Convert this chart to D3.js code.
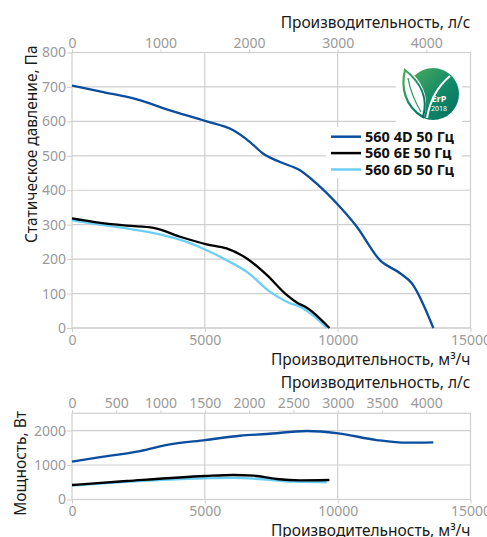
<!DOCTYPE html>
<html><head><meta charset="utf-8">
<script src="https://cdn.jsdelivr.net/npm/d3@7"></script>
<style>
body{margin:0;background:#fff}
svg text{font-family:"Noto Sans",sans-serif}
</style>
</head><body>
<svg id="c" width="487" height="537"></svg>
<script>
// ---------- data ----------
const seriesNames  = ["560 4D 50 Гц", "560 6E 50 Гц", "560 6D 50 Гц"];
const seriesColors = ["#0a4c9e", "#000000", "#6dcff6"];

// pressure curves (flow m3/h, static pressure Pa)
const flow4D = [0, 1180, 2440, 3690, 5070, 6070, 6700, 7200, 7830, 8580, 9210, 10020, 10720, 11590, 12350, 12790, 13600];
const pres4D = [704, 685, 664, 632, 600, 574, 540, 506, 482, 458, 419, 357, 294, 197, 159, 130, 0];
const flow6E = [0, 800, 2060, 3070, 4070, 5070, 5820, 6580, 7330, 8080, 8460, 8840, 9690];
const pres6E = [318, 308, 297, 291, 265, 243, 231, 202, 154, 96, 74, 59, 0];
const flow6D = [0, 800, 2060, 3310, 4320, 5070, 5820, 6580, 7460, 8210, 8580, 8960, 9590];
const pres6D = [313, 303, 289, 272, 250, 226, 197, 163, 105, 72, 62, 43, 0];

// power curves (flow m3/h, power W)
const pflow4D = [0, 1180, 2560, 3690, 5020, 6330, 7330, 8840, 10020, 11470, 12600, 13600];
const power4D = [1096, 1241, 1406, 1600, 1725, 1849, 1899, 1986, 1918, 1725, 1647, 1658];
const pflow6E = [0, 2060, 5020, 6070, 6830, 7700, 8580, 9690];
const power6E = [420, 536, 681, 710, 690, 594, 556, 565];
const pflow6D = [0, 2060, 5020, 6070, 7080, 8330, 9590];
const power6D = [400, 510, 614, 630, 594, 516, 498];

// ticks
const flowTicks   = [0, 5000, 10000, 15000];
const lpsTicksTop = [0, 1000, 2000, 3000, 4000];
const lpsTicksBot = [0, 500, 1000, 1500, 2000, 2500, 3000, 3500, 4000];
const presTicks   = [0, 100, 200, 300, 400, 500, 600, 700, 800];
const powerTicks  = [0, 1000, 2000];

const titleLps   = "Производительность, л/с";
const titleFlow  = "Производительность, м³/ч";
const titlePres  = "Статическое давление, Па";
const titlePower = "Мощность, Вт";

// ---------- drawing ----------
const svg = d3.select("#c");
const L = 72, R = 470.5;
const gridCol = "#cfcfcf", tickCol = "#9a9a9a", titleCol = "#1a1a1a";

const x  = d3.scaleLinear().domain([0, 15000]).range([L, R]);
const xl = d3.scaleLinear().domain([0, 4500]).range([L, R]);

function styleAxis(g) {
  g.select(".domain").remove();
  g.selectAll(".tick line").attr("stroke", gridCol);
  g.selectAll(".tick text").attr("fill", tickCol).style("font-size", "14px");
}

function panel(opt) {
  const y = d3.scaleLinear().domain(opt.ydom).range([opt.bottom, opt.top]);
  const g = svg.append("g");
  g.selectAll(".hg").data(opt.yticks).enter().append("line")
    .attr("x1", L).attr("x2", R).attr("y1", d => y(d)).attr("y2", d => y(d))
    .attr("stroke", gridCol).attr("stroke-width", 1.2);
  g.selectAll(".vg").data([5000, 10000]).enter().append("line")
    .attr("x1", d => x(d)).attr("x2", d => x(d)).attr("y1", opt.top).attr("y2", opt.bottom)
    .attr("stroke", gridCol).attr("stroke-width", 1.2);
  g.append("rect").attr("x", L).attr("y", opt.top).attr("width", R - L).attr("height", opt.bottom - opt.top)
    .attr("fill", "none").attr("stroke", gridCol).attr("stroke-width", 1.2);

  g.append("g").attr("transform", `translate(${L},0)`)
    .call(d3.axisLeft(y).tickValues(opt.yticks).tickSize(5).tickPadding(1).tickFormat(d3.format("d")))
    .call(styleAxis);
  g.append("g").attr("transform", `translate(0,${opt.bottom})`)
    .call(d3.axisBottom(x).tickValues(flowTicks).tickSize(4).tickPadding(3).tickFormat(d3.format("d")))
    .call(styleAxis);
  g.append("g").attr("transform", `translate(0,${opt.top})`)
    .call(d3.axisTop(xl).tickValues(opt.lpsTicks).tickSize(3).tickPadding(2).tickFormat(d3.format("d")))
    .call(styleAxis);

  g.append("text").attr("x", R).attr("y", opt.top - 25).attr("text-anchor", "end")
    .attr("fill", titleCol).style("font-size", "15.5px").text(titleLps);
  g.append("text").attr("x", R).attr("y", opt.bottom + opt.bt).attr("text-anchor", "end")
    .attr("fill", titleCol).style("font-size", "15.5px").text(titleFlow);
  g.append("text").attr("transform", `translate(${opt.ytx},${(opt.top + opt.bottom) / 2 + opt.yoff}) rotate(-90)`)
    .attr("text-anchor", "middle").attr("fill", titleCol).style("font-size", "15.5px").text(opt.ytitle);

  return {g, y};
}

const pTop = panel({ydom: [0, 800], top: 52.5, bottom: 328, yticks: presTicks, lpsTicks: lpsTicksTop,
  ytitle: titlePres, ytx: 37, yoff: -46, bt: 37});
const pBot = panel({ydom: [0, 2500], top: 413.3, bottom: 499.5, yticks: powerTicks, lpsTicks: lpsTicksBot,
  ytitle: titlePower, ytx: 26, yoff: 7, bt: 36});

function drawSeries(p, xs, ys, color) {
  const pts = xs.map((v, i) => [v, ys[i]]);
  p.g.append("path").datum(pts)
    .attr("fill", "none").attr("stroke", color).attr("stroke-width", 2.3)
    .attr("stroke-linejoin", "round")
    .attr("d", d3.line().x(d => x(d[0])).y(d => p.y(d[1])).curve(d3.curveMonotoneX));
}

drawSeries(pTop, flow4D, pres4D, seriesColors[0]);
drawSeries(pTop, flow6D, pres6D, seriesColors[2]);
drawSeries(pTop, flow6E, pres6E, seriesColors[1]);

drawSeries(pBot, pflow4D, power4D, seriesColors[0]);
drawSeries(pBot, pflow6D, power6D, seriesColors[2]);
drawSeries(pBot, pflow6E, power6E, seriesColors[1]);

// legend
const lg = svg.append("g");
lg.append("rect").attr("x", 326).attr("y", 127).attr("width", 136).attr("height", 51).attr("fill", "#fff");
seriesNames.forEach((n, i) => {
  const yy = 136.7 + i * 16.4;
  lg.append("line").attr("x1", 331).attr("x2", 361).attr("y1", yy).attr("y2", yy)
    .attr("stroke", seriesColors[i]).attr("stroke-width", 2.5);
  lg.append("text").attr("x", 365).attr("y", yy + 5).attr("fill", "#111")
    .style("font-size", "14.5px").style("font-weight", "bold").text(n);
});

// ErP logo
const logo = svg.append("g");
logo.append("rect").attr("x", 396).attr("y", 62).attr("width", 66).attr("height", 62).attr("fill", "#fff");
const defs = svg.append("defs");
const gr = defs.append("linearGradient").attr("id", "erp").attr("x1", "0").attr("y1", "0").attr("x2", "1").attr("y2", "1");
gr.append("stop").attr("offset", "0").attr("stop-color", "#4fae5c");
gr.append("stop").attr("offset", "0.55").attr("stop-color", "#138a68");
gr.append("stop").attr("offset", "1").attr("stop-color", "#006e63");
logo.append("circle").attr("cx", 433).attr("cy", 94).attr("r", 26).attr("fill", "url(#erp)");
// white leaf cut-out
logo.append("path").attr("d", "M423,120 C401,108 398,86 404,66 C420,78 432,96 423,120 Z")
  .attr("fill", "#fff");
// green leaf outline
logo.append("path").attr("d", "M423,117 C404,106 401,86 405,70 C419,81 429,97 423,117 Z")
  .attr("fill", "none").attr("stroke", "url(#erp)").attr("stroke-width", 2.2);
logo.append("path").attr("d", "M421,112 C414,100 410,90 408,78")
  .attr("fill", "none").attr("stroke", "#2f9c60").attr("stroke-width", 1.3);
// white stroke notch on circle
logo.append("path").attr("d", "M427,118 C430,100 438,86 450,76")
  .attr("fill", "none").attr("stroke", "#fff").attr("stroke-width", 2);
logo.append("text").attr("x", 439).attr("y", 102).attr("text-anchor", "middle").attr("fill", "#fff")
  .style("font-size", "9px").style("font-weight", "bold").text("ErP");
logo.append("text").attr("x", 439).attr("y", 111).attr("text-anchor", "middle").attr("fill", "#fff")
  .style("font-size", "7px").text("2018");
</script>
</body></html>
